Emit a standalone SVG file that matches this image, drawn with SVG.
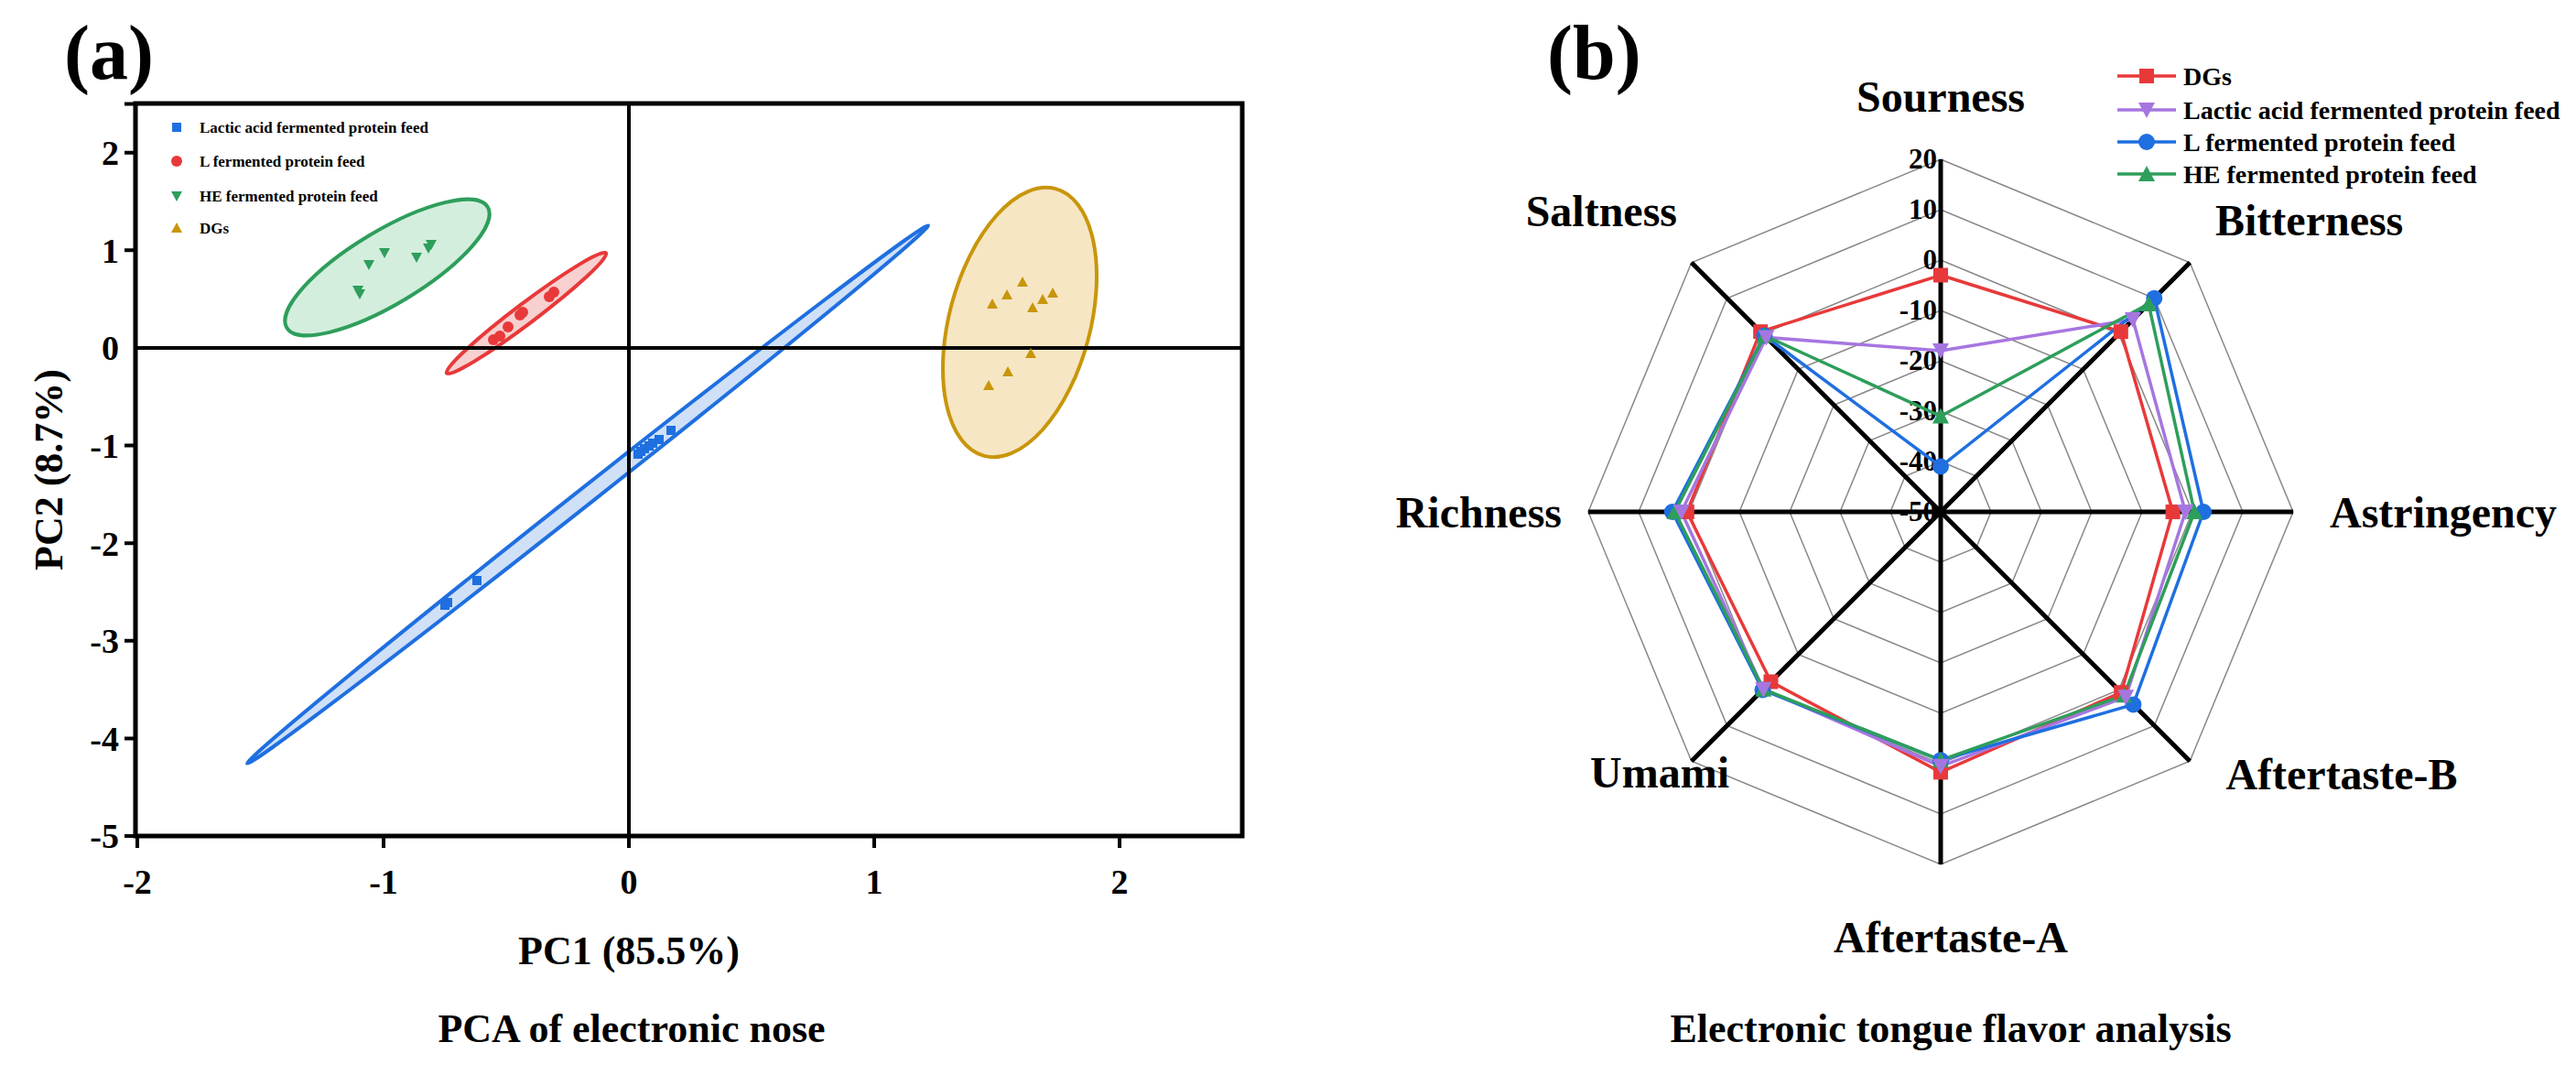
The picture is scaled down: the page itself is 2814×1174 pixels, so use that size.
<svg xmlns="http://www.w3.org/2000/svg" width="2814" height="1174" viewBox="0 0 2814 1174">
<style>
text{font-family:"Liberation Serif","Times New Roman",serif;font-weight:bold;fill:#000}
.tick{font-size:38px}
.lab{font-size:44px}
.rlab{font-size:48px}
.leg{font-size:17px}
.rleg{font-size:28px}
.rt{font-size:31px}
.ring{fill:none;stroke:#888;stroke-width:1.5}
.spoke{stroke:#000;stroke-width:5}
.b{fill:#1f6fe0}.r{fill:#e8393a}.g{fill:#2e9e5b}.o{fill:#c8960a}.p{fill:#a676e0}
</style>
<defs>
<rect id="sq" x="-5" y="-5" width="10" height="10"/>
<circle id="ci" r="6"/>
<path id="td" d="M-6,-5 L6,-5 L0,6 Z"/>
<path id="tu" d="M-6,5 L6,5 L0,-6 Z"/>
<rect id="sqL" x="-8" y="-8" width="16" height="16"/>
<circle id="ciL" r="9"/>
<path id="tdL" d="M-9,-8 L9,-8 L0,9 Z"/>
<path id="tuL" d="M-9,8 L9,8 L0,-9 Z"/>
</defs>

<!-- Panel a -->
<g id="panel-a">
<text x="70" y="86" style="font-size:84px">(a)</text>
<g id="ellipses">
<ellipse cx="423" cy="292" rx="128" ry="40" transform="rotate(-31 423 292)" fill="#d3eedd" stroke="#2e9e5b" stroke-width="4"/>
<ellipse cx="575" cy="342" rx="109" ry="11" transform="rotate(-37 575 342)" fill="#f8d0d0" stroke="#e8393a" stroke-width="4"/>
<ellipse cx="642" cy="540" rx="474" ry="9" transform="rotate(-38.3 642 540)" fill="#cfe0f7" stroke="#1f6fe0" stroke-width="4"/>
<ellipse cx="1114" cy="352" rx="77" ry="151" transform="rotate(15 1114 352)" fill="#f7e6c4" stroke="#c8960a" stroke-width="4"/>
</g>
<g id="axes-a" stroke="#000" fill="none">
<rect x="148" y="113" width="1209" height="800" stroke-width="5"/>
<line x1="687" y1="113" x2="687" y2="913" stroke-width="4"/>
<line x1="148" y1="380" x2="1357" y2="380" stroke-width="4"/>
<path d="M136,113.5H148M136,166.7H148M136,273.3H148M136,486.6H148M136,593.2H148M136,699.8H148M136,806.4H148M136,913H148" stroke-width="4"/>
<path d="M150,913V926M419,913V926M687,913V926M955,913V926M1223,913V926" stroke-width="4"/>
</g>
<g id="yticks" class="tick" text-anchor="end">
<text x="130" y="180">2</text><text x="130" y="287">1</text><text x="130" y="393">0</text>
<text x="130" y="500">-1</text><text x="130" y="607">-2</text><text x="130" y="713">-3</text>
<text x="130" y="820">-4</text><text x="130" y="926">-5</text>
</g>
<g id="xticks" class="tick" text-anchor="middle">
<text x="150" y="976">-2</text><text x="419" y="976">-1</text><text x="687" y="976">0</text>
<text x="955" y="976">1</text><text x="1223" y="976">2</text>
</g>
<text class="lab" x="687" y="1053" text-anchor="middle">PC1 (85.5%)</text>
<text class="lab" transform="translate(68 513) rotate(-90)" text-anchor="middle">PC2 (8.7%)</text>
<text class="lab" x="690" y="1138" text-anchor="middle">PCA of electronic nose</text>
<g id="legend-a" class="leg">
<use href="#sq" class="b" x="193" y="139"/>
<text x="218" y="145">Lactic acid fermented protein feed</text>
<use href="#ci" class="r" x="193" y="176"/>
<text x="218" y="182">L fermented protein feed</text>
<use href="#td" class="g" x="193" y="214"/>
<text x="218" y="220">HE fermented protein feed</text>
<use href="#tu" class="o" x="193" y="249"/>
<text x="218" y="255">DGs</text>
</g>
<g id="points-a">
<g class="g"><use href="#td" x="391" y="317"/><use href="#td" x="393" y="321"/><use href="#td" x="403" y="289"/><use href="#td" x="420" y="276"/><use href="#td" x="455" y="281"/><use href="#td" x="468" y="271"/><use href="#td" x="471" y="267"/></g>
<g class="r"><use href="#ci" x="539" y="371"/><use href="#ci" x="546" y="367"/><use href="#ci" x="555" y="357"/><use href="#ci" x="568" y="344"/><use href="#ci" x="571" y="341"/><use href="#ci" x="600" y="324"/><use href="#ci" x="605" y="319"/></g>
<g class="b"><use href="#sq" x="697" y="496"/><use href="#sq" x="700" y="493"/><use href="#sq" x="704" y="490"/><use href="#sq" x="709" y="487"/><use href="#sq" x="713" y="484"/><use href="#sq" x="720" y="480"/><use href="#sq" x="733" y="470"/><use href="#sq" x="486" y="661"/><use href="#sq" x="489" y="658"/><use href="#sq" x="521" y="634"/></g>
<g class="o"><use href="#tu" x="1117" y="308"/><use href="#tu" x="1100" y="322"/><use href="#tu" x="1084" y="332"/><use href="#tu" x="1128" y="336"/><use href="#tu" x="1139" y="327"/><use href="#tu" x="1150" y="320"/><use href="#tu" x="1126" y="386"/><use href="#tu" x="1101" y="406"/><use href="#tu" x="1080" y="421"/></g>
</g>
</g>

<!-- Panel b -->
<g id="panel-b">
<text x="1690" y="86" style="font-size:84px">(b)</text>
<g id="rings">
<polygon class="ring" points="2120,504 2158.9,520.1 2175,559 2158.9,597.9 2120,614 2081.1,597.9 2065,559 2081.1,520.1"/>
<polygon class="ring" points="2120,449 2197.8,481.2 2230,559 2197.8,636.8 2120,669 2042.2,636.8 2010,559 2042.2,481.2"/>
<polygon class="ring" points="2120,394 2236.7,442.3 2285,559 2236.7,675.7 2120,724 2003.3,675.7 1955,559 2003.3,442.3"/>
<polygon class="ring" points="2120,339 2275.6,403.4 2340,559 2275.6,714.6 2120,779 1964.4,714.6 1900,559 1964.4,403.4"/>
<polygon class="ring" points="2120,284 2314.5,364.6 2395,559 2314.5,753.5 2120,834 1925.5,753.5 1845,559 1925.5,364.6"/>
<polygon class="ring" points="2120,229 2353.4,325.7 2450,559 2353.4,792.4 2120,889 1886.6,792.4 1790,559 1886.6,325.7"/>
<polygon class="ring" points="2120,174 2392.2,286.8 2505,559 2392.2,831.2 2120,944 1847.8,831.2 1735,559 1847.8,286.8"/>
</g>
<g id="spokes" class="spoke">
<line x1="2120" y1="559" x2="2120" y2="174"/><line x1="2120" y1="559" x2="2392.2" y2="286.8"/>
<line x1="2120" y1="559" x2="2505" y2="559"/><line x1="2120" y1="559" x2="2392.2" y2="831.2"/>
<line x1="2120" y1="559" x2="2120" y2="944"/><line x1="2120" y1="559" x2="1847.8" y2="831.2"/>
<line x1="2120" y1="559" x2="1735" y2="559"/><line x1="2120" y1="559" x2="1847.8" y2="286.8"/>
</g>
<g id="rticks" class="rt" text-anchor="end">
<text x="2116" y="184">20</text><text x="2116" y="239">10</text><text x="2116" y="294">0</text>
<text x="2116" y="349">-10</text><text x="2116" y="404">-20</text><text x="2116" y="459">-30</text>
<text x="2116" y="514">-40</text><text x="2116" y="569">-50</text>
</g>
<g id="series" fill="none" stroke-width="3.5">
<polygon stroke="#e8393a" points="2120,300.5 2316.8,362.2 2373.6,559 2317.2,756.2 2120,843.4 1934.5,744.5 1842.8,559 1923.2,362.2"/>
<polygon stroke="#a676e0" points="2120,383 2330,349 2387.3,559 2322.2,761.2 2120,836.8 1926.3,752.7 1836.7,559 1929.4,368.4"/>
<polygon stroke="#1f6fe0" points="2120,509.5 2353.3,325.7 2407.1,559 2330.4,769.4 2120,830.2 1925.5,753.5 1826.8,559 1927.5,366.5"/>
<polygon stroke="#2e9e5b" points="2120,454.5 2347.1,331.9 2397.2,559 2320.3,759.3 2120,830.2 1926.3,752.7 1829.6,559 1927.5,366.5"/>
</g>
<g id="series-markers">
<g class="r"><use href="#sqL" x="2120" y="300.5"/><use href="#sqL" x="2316.8" y="362.2"/><use href="#sqL" x="2373.6" y="559"/><use href="#sqL" x="2317.2" y="756.2"/><use href="#sqL" x="2120" y="843.4"/><use href="#sqL" x="1934.5" y="744.5"/><use href="#sqL" x="1842.8" y="559"/><use href="#sqL" x="1923.2" y="362.2"/></g>
<g class="b"><use href="#ciL" x="2120" y="509.5"/><use href="#ciL" x="2353.3" y="325.7"/><use href="#ciL" x="2407.1" y="559"/><use href="#ciL" x="2330.4" y="769.4"/><use href="#ciL" x="2120" y="830.2"/><use href="#ciL" x="1925.5" y="753.5"/><use href="#ciL" x="1826.8" y="559"/><use href="#ciL" x="1927.5" y="366.5"/></g>
<g class="g"><use href="#tuL" x="2120" y="454.5"/><use href="#tuL" x="2347.1" y="331.9"/><use href="#tuL" x="2397.2" y="559"/><use href="#tuL" x="2320.3" y="759.3"/><use href="#tuL" x="2120" y="830.2"/><use href="#tuL" x="1926.3" y="752.7"/><use href="#tuL" x="1829.6" y="559"/><use href="#tuL" x="1927.5" y="366.5"/></g>
<g class="p"><use href="#tdL" x="2120" y="383"/><use href="#tdL" x="2330" y="349"/><use href="#tdL" x="2387.3" y="559"/><use href="#tdL" x="2322.2" y="761.2"/><use href="#tdL" x="2120" y="836.8"/><use href="#tdL" x="1926.3" y="752.7"/><use href="#tdL" x="1836.7" y="559"/><use href="#tdL" x="1929.4" y="368.4"/></g>
</g>
<g id="axis-labels" class="rlab">
<text x="2120" y="122" text-anchor="middle">Sourness</text>
<text x="2420" y="257">Bitterness</text>
<text x="2545" y="576">Astringency</text>
<text x="2558" y="862" text-anchor="middle">Aftertaste-B</text>
<text x="2131" y="1040" text-anchor="middle">Aftertaste-A</text>
<text x="1813" y="860" text-anchor="middle">Umami</text>
<text x="1706" y="576" text-anchor="end">Richness</text>
<text x="1832" y="247" text-anchor="end">Saltness</text>
</g>
<text class="lab" x="2131" y="1138" text-anchor="middle">Electronic tongue flavor analysis</text>
<g id="legend-b" class="rleg">
<line x1="2313" y1="83" x2="2377" y2="83" stroke="#e8393a" stroke-width="3.5"/><use href="#sqL" class="r" x="2345" y="83"/>
<text x="2385" y="93">DGs</text>
<line x1="2313" y1="120" x2="2377" y2="120" stroke="#a676e0" stroke-width="3.5"/><use href="#tdL" class="p" x="2345" y="120"/>
<text x="2385" y="130">Lactic acid fermented protein feed</text>
<line x1="2313" y1="155" x2="2377" y2="155" stroke="#1f6fe0" stroke-width="3.5"/><use href="#ciL" class="b" x="2345" y="155"/>
<text x="2385" y="165">L fermented protein feed</text>
<line x1="2313" y1="190" x2="2377" y2="190" stroke="#2e9e5b" stroke-width="3.5"/><use href="#tuL" class="g" x="2345" y="190"/>
<text x="2385" y="200">HE fermented protein feed</text>
</g>
</g>
</svg>
